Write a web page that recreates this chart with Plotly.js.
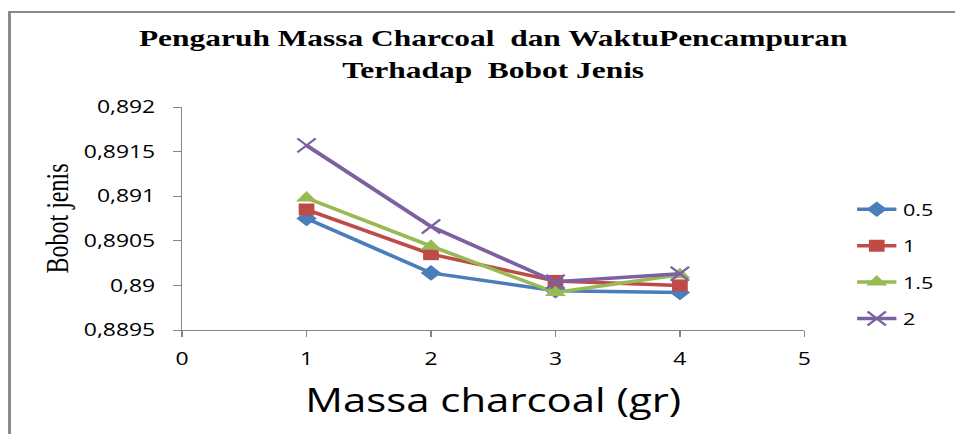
<!DOCTYPE html>
<html><head><meta charset="utf-8">
<script src="https://cdn.plot.ly/plotly-3.0.1.min.js"></script>
<style>
html,body{margin:0;padding:0;background:#fff;}
#wrap{position:relative;width:955px;height:434px;overflow:hidden;}
#chart{width:729px;height:434px;transform:scaleX(1.31);transform-origin:0 0;}
#frame{position:absolute;left:8px;top:11px;width:960px;height:440px;border-left:3px solid #8a8a8a;border-top:2px solid #8a8a8a;box-sizing:border-box;pointer-events:none;}
</style></head>
<body>
<div id="wrap"><div id="chart"></div><div id="frame"></div></div>
<script>
const massa = [1, 2, 3, 4];
const seriesNames = ['0.5', '1', '1.5', '2'];
const s05 = [0.89075, 0.89014, 0.88994, 0.88992];
const s1  = [0.89085, 0.89035, 0.89005, 0.89000];
const s15 = [0.89098, 0.89044, 0.88992, 0.89012];
const s2  = [0.89157, 0.89066, 0.89004, 0.89013];
const yTicks = [0.8895, 0.89, 0.8905, 0.891, 0.8915, 0.892];
const yTickLabels = ['0,8895', '0,89', '0,8905', '0,891', '0,8915', '0,892'];

const colors = ['#4a7ebb', '#be4b48', '#98b954', '#7d60a0'];
const symbols = ['diamond', 'square', 'triangle-up', 'x-thin-open'];
const sizes = [12, 12, 14, 14];
const vals = [s05, s1, s15, s2];

const traces = vals.map((v, i) => ({
  x: massa, y: v, name: seriesNames[i], type: 'scatter', mode: 'lines+markers',
  legendgroup: 'g' + i,
  line: {color: colors[i], width: 3.5},
  marker: {symbol: symbols[i], size: sizes[i], color: colors[i], line: {color: colors[i], width: i === 3 ? 2 : 0}}
}));

const layout = {
  width: 729, height: 434,
  margin: {l: 139, r: 114, t: 107, b: 104},
  paper_bgcolor: '#fff', plot_bgcolor: '#fff',
  showlegend: true,
  title: {
    text: '<b>Pengaruh Massa Charcoal  dan WaktuPencampuran<br>Terhadap  Bobot Jenis</b>',
    font: {family: 'Liberation Serif, Times New Roman, serif', size: 24, color: '#000'},
    x: 0.5, xref: 'paper', xanchor: 'center', y: 0.893, yref: 'container', yanchor: 'middle'
  },
  xaxis: {
    range: [0, 5], dtick: 1, tick0: 0, showgrid: false, zeroline: false,
    showline: true, linecolor: '#868686', linewidth: 1,
    ticks: 'outside', ticklen: 6, tickcolor: '#868686',
    ticklabelstandoff: 7,
    tickfont: {family: 'Open Sans, sans-serif', size: 17.5, color: '#000'},
    title: {text: 'Massa charcoal (gr)', font: {family: 'Open Sans, sans-serif', size: 32, color: '#000'}, standoff: 20}
  },
  yaxis: {
    range: [0.8895, 0.892], tickvals: yTicks, ticktext: yTickLabels, showgrid: false, zeroline: false,
    showline: true, linecolor: '#868686', linewidth: 1,
    ticks: 'outside', ticklen: 6, tickcolor: '#868686',
    ticklabelstandoff: 10,
    tickfont: {family: 'Open Sans, sans-serif', size: 17.5, color: '#000'},
    title: {text: 'Bobot jenis', font: {family: 'Liberation Serif, Times New Roman, serif', size: 24, color: '#000'}, standoff: 4}
  },
  legend: {
    x: 1.072, xanchor: 'left', y: 0.296, yanchor: 'middle',
    font: {family: 'Open Sans, sans-serif', size: 16.5, color: '#000'},
    tracegroupgap: 12, bgcolor: 'rgba(0,0,0,0)'
  }
};

Plotly.newPlot('chart', traces, layout, {displayModeBar: false, staticPlot: true});
</script>
</body></html>
